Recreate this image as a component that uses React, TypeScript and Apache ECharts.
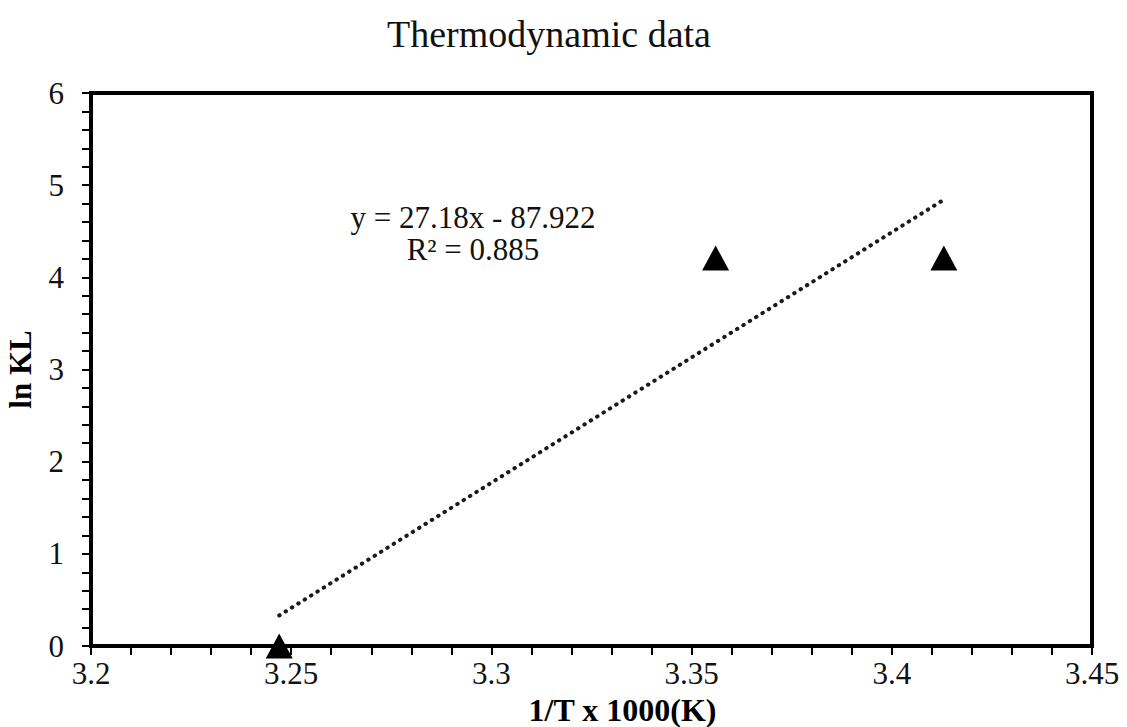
import React, { useEffect, useRef } from "react";
import * as echarts from "echarts";

const xValues = [3.247, 3.356, 3.413];
const lnKL = [0, 4.21, 4.21];
const trendX = [3.247, 3.413];
const trendY = [0.331, 4.843];
const xTicks = { min: 3.2, max: 3.45, interval: 0.05 };
const yTicks = { min: 0, max: 6, interval: 1 };
const titleText = "Thermodynamic data";
const equationLines = ["y = 27.18x - 87.922", "R² = 0.885"];

const FONT = "'Liberation Serif', 'Times New Roman', serif";

export default function App() {
  const ref = useRef<HTMLDivElement>(null);
  useEffect(() => {
    if (!ref.current) return;
    const chart = echarts.init(ref.current, null, { renderer: "svg" });
    const option = {
      animation: false,
      backgroundColor: "#ffffff",
      title: {
        text: titleText,
        left: 544,
        top: 10,
        textAlign: "center",
        textStyle: { fontFamily: FONT, fontSize: 38, fontWeight: "normal", color: "#111" },
      },
      grid: {
        left: 91,
        right: 35,
        top: 93,
        bottom: 81,
        show: true,
        borderColor: "#000",
        borderWidth: 4,
        containLabel: false,
        outerBoundsMode: "none",
      },
      xAxis: {
        type: "value",
        min: xTicks.min,
        max: xTicks.max,
        interval: xTicks.interval,
        name: "1/T x 1000(K)",
        nameLocation: "middle",
        nameGap: 47,
        nameTextStyle: {
          fontFamily: FONT,
          fontSize: 32,
          fontWeight: "bold",
          color: "#000",
          padding: [0, 0, 0, 62],
        },
        axisLine: { show: true, onZero: false, lineStyle: { color: "#000", width: 4 } },
        axisTick: { show: true, inside: false, length: 9, lineStyle: { color: "#000", width: 2 } },
        minorTick: { show: true, splitNumber: 5, length: 9, lineStyle: { color: "#000", width: 2 } },
        splitLine: { show: false },
        axisLabel: {
          margin: 12,
          fontFamily: FONT,
          fontSize: 31,
          color: "#111",
          formatter: (v: number) => String(+v.toFixed(2)),
        },
      },
      yAxis: {
        type: "value",
        min: yTicks.min,
        max: yTicks.max,
        interval: yTicks.interval,
        name: "ln KL",
        nameLocation: "middle",
        nameRotate: 90,
        nameGap: 55,
        nameTextStyle: { fontFamily: FONT, fontSize: 31, fontWeight: "bold", color: "#000" },
        axisLine: { show: true, onZero: false, lineStyle: { color: "#000", width: 4 } },
        axisTick: { show: true, inside: false, length: 9, lineStyle: { color: "#000", width: 2 } },
        minorTick: { show: true, splitNumber: 5, length: 9, lineStyle: { color: "#000", width: 2 } },
        splitLine: { show: false },
        axisLabel: { margin: 27, fontFamily: FONT, fontSize: 31, color: "#111" },
      },
      series: [
        {
          type: "line",
          data: trendX.map((x, i) => [x, trendY[i]]),
          showSymbol: false,
          symbol: "none",
          lineStyle: { color: "#1a1a1a", width: 4, type: [0.5, 7], cap: "round" },
          z: 2,
          silent: true,
        },
        {
          type: "scatter",
          data: xValues.map((x, i) => [x, lnKL[i]]),
          symbol: "triangle",
          symbolSize: [27, 25],
          itemStyle: { color: "#000", opacity: 1 },
          z: 3,
        },
      ],
      graphic: [
        {
          type: "text",
          x: 473,
          y: 201,
          style: {
            text: equationLines.join("\n"),
            font: `31px ${FONT}`,
            fill: "#111",
            align: "center",
            verticalAlign: "top",
            lineHeight: 32,
          },
        },
      ],
    };
    chart.setOption(option as any);
    return () => chart.dispose();
  }, []);
  return (
    <div
      ref={ref}
      style={{ position: "fixed", left: 0, top: 0, width: 1127, height: 727 }}
    />
  );
}
